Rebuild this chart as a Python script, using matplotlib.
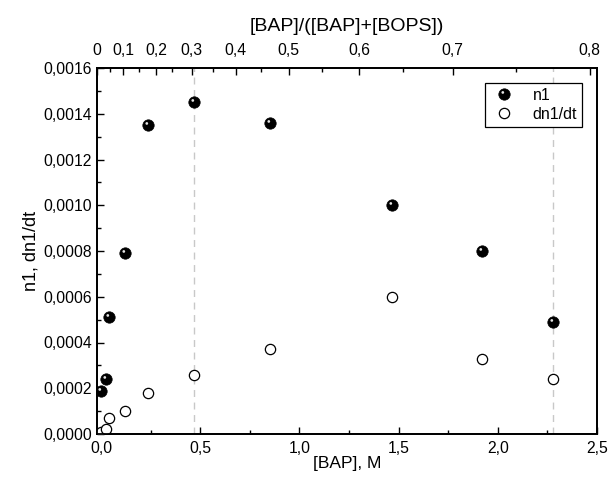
import numpy as np
import matplotlib
matplotlib.use("Agg")
import matplotlib.pyplot as plt
from matplotlib.path import Path
from matplotlib.ticker import FuncFormatter, MultipleLocator, FixedLocator

plt.rcParams['font.family'] = ['Liberation Sans', 'DejaVu Sans']

# Data
bap = [0.0, 0.024, 0.04, 0.122, 0.237, 0.47, 0.85, 1.468, 1.921, 2.279]
n1 = [0.00019, 0.00024, 0.00051, 0.00079, 0.00135, 0.00145, 0.00136, 0.0010, 0.0008, 0.00049]
bap_open = [0.0, 0.024, 0.042, 0.122, 0.237, 0.47, 0.85, 1.468, 1.921, 2.279]
dn1dt = [0.00001, 0.00002, 0.00007, 0.0001, 0.00018, 0.00026, 0.00037, 0.0006, 0.00033, 0.00024]
vlines_x = [0.47, 2.28]

# top axis: fraction labels and their positions on the BAP scale
top_labels = ['0', '0,1', '0,2', '0,3', '0,4', '0,5', '0,6', '0,7', '0,8']
top_pos = [-0.02, 0.111, 0.277, 0.458, 0.680, 0.947, 1.300, 1.773, 2.463]
top_minor = [0.045, 0.190, 0.360, 0.565, 0.805, 1.115, 1.520, 2.090]

fig = plt.figure(figsize=(6.11, 4.83), dpi=100)
ax = fig.add_axes([97/611, 1 - 434/483, 500/611, 366/483])

for xv in vlines_x:
    ax.axvline(xv, color='#c8c8c8', lw=1.0, ls=(0, (5, 4)), zorder=1)

# highlight marker for sphere look
th = np.linspace(0, 2*np.pi, 40)
cx, cy, r = -0.30, 0.36, 0.24
verts = [(-1, -1), (1, 1)] + [(cx + r*np.cos(t), cy + r*np.sin(t)) for t in th]
codes = [Path.MOVETO, Path.MOVETO, Path.MOVETO] + [Path.LINETO]*(len(th)-2) + [Path.CLOSEPOLY]
hl = Path(verts, codes)

ms = 8.2
h1, = ax.plot(bap, n1, 'o', color='black', ms=ms, mec='black', mew=0.5, ls='none', zorder=3)
h1b, = ax.plot(bap, n1, marker=hl, color='#e6e6e6', ms=ms, mew=0, ls='none', zorder=4)
h2, = ax.plot(bap_open, dn1dt, 'o', mfc='white', mec='black', mew=0.9, ms=7.4, ls='none', zorder=3)

ax.set_xlim(-0.02, 2.5)
ax.set_ylim(0, 0.0016)
ax.xaxis.set_major_locator(MultipleLocator(0.5))
ax.xaxis.set_minor_locator(MultipleLocator(0.25))
ax.yaxis.set_major_locator(MultipleLocator(0.0002))
ax.yaxis.set_minor_locator(MultipleLocator(0.0001))
ax.xaxis.set_major_formatter(FuncFormatter(lambda v, p: f"{v:.1f}".replace('.', ',')))
ax.yaxis.set_major_formatter(FuncFormatter(lambda v, p: f"{v:.4f}".replace('.', ',')))
ax.tick_params(which='both', direction='in', top=False, right=False, labelsize=11.3, width=1.0)
ax.tick_params(axis='x', pad=5)
ax.tick_params(which='major', length=5)
ax.tick_params(which='minor', length=3)
for s in ax.spines.values():
    s.set_linewidth(1.3)

ax.set_xlabel('[BAP], M', fontsize=12.5, labelpad=0)
ax.set_ylabel('n1, dn1/dt', fontsize=13, labelpad=3)

ax2 = ax.twiny()
ax2.set_xlim(ax.get_xlim())
ax2.xaxis.set_major_locator(FixedLocator(top_pos))
ax2.set_xticklabels(top_labels)
ax2.xaxis.set_minor_locator(FixedLocator(top_minor))
ax2.tick_params(which='both', direction='in', labelsize=11.3, width=1.0, pad=7)
ax2.tick_params(which='major', length=5)
ax2.tick_params(which='minor', length=3)
ax2.set_xlabel('[BAP]/([BAP]+[BOPS])', fontsize=14, labelpad=9)
for s in ax2.spines.values():
    s.set_linewidth(1.3)

leg = ax.legend([(h1, h1b), h2], ['n1', 'dn1/dt'], loc='upper right',
                bbox_to_anchor=(0.97, 0.959), borderaxespad=0, fontsize=11.5,
                fancybox=False, framealpha=1, edgecolor='black', handletextpad=0.9,
                borderpad=0.3, labelspacing=0.25, handlelength=1.8)
leg.get_frame().set_linewidth(0.9)

fig.savefig('out.png', dpi=100)
